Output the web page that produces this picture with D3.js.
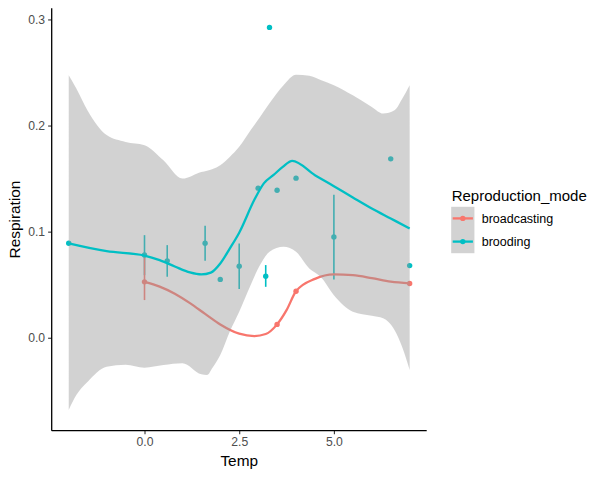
<!DOCTYPE html>
<html>
<head>
<meta charset="utf-8">
<script src="https://cdn.jsdelivr.net/npm/d3@7"></script>
<style>
  body { margin: 0; background: #fff; }
  svg { display: block; font-family: "Liberation Sans", Arial, sans-serif; }
</style>
</head>
<body>
<div id="chart"></div>
<script>
// ----- Data -----
const modes = ["broadcasting", "brooding"];
const modeColors = ["#F8766D", "#00BFC4"];

// observed points (brooding)
const broodTemp = [-2, 0, 0.6, 1.6, 2.0, 2.5, 3.0, 3.2, 3.3, 3.5, 4.0, 5.0, 6.5, 7.0];
const broodResp = [0.089, 0.078, 0.0725, 0.089, 0.055, 0.0675, 0.141, 0.058, 0.2925, 0.139, 0.1504, 0.095, 0.1686, 0.068];
const broodLo   = [null, 0.059, 0.0575, 0.0725, null, 0.046, null, 0.048, null, null, null, 0.055, null, null];
const broodHi   = [null, 0.0967, 0.0873, 0.1055, null, 0.0889, null, 0.0685, null, null, null, 0.1347, null, null];

// observed points (broadcasting)
const castTemp = [0, 3.5, 4.0, 7.0];
const castResp = [0.0527, 0.0126, 0.0438, 0.0512];
const castLo   = [0.0355, null, null, null];
const castHi   = [0.0765, null, null, null];

// smoothed fits
const broodFitTemp = [-2, -1, 0, 0.4, 0.8, 1.2, 1.5, 1.75, 2.0, 2.25, 2.5, 2.9, 3.15, 3.4, 3.65, 3.9, 4.5, 5, 5.5, 6, 6.5, 7];
const broodFit     = [0.089, 0.0816, 0.0775, 0.0732, 0.0672, 0.0616, 0.0597, 0.0614, 0.070, 0.084, 0.099, 0.130, 0.1455, 0.1532, 0.161, 0.1667, 0.1532, 0.1428, 0.1322, 0.1218, 0.1124, 0.103];
const castFitTemp  = [0, 0.4, 0.8, 1.2, 1.6, 2.0, 2.5, 2.9, 3.2, 3.5, 3.75, 4.0, 4.5, 5.0, 5.5, 6.0, 6.5, 7.0];
const castFit      = [0.0527, 0.0482, 0.0415, 0.0326, 0.0225, 0.0125, 0.0038, 0.0016, 0.0035, 0.0126, 0.026, 0.0438, 0.0555, 0.0597, 0.059, 0.0562, 0.0528, 0.0512];

// confidence band (brooding)
const bandTemp  = [-2, -1.8, -1.5, -1, -0.5, 0, 0.5, 1, 1.5, 1.65, 1.8, 2, 2.25, 2.5, 2.8, 3.05, 3.3, 3.67, 4.0, 4.35, 4.65, 5, 5.5, 6, 6.3, 6.6, 6.8, 7];
const bandUpper = [0.2474, 0.235, 0.214, 0.191, 0.1846, 0.1815, 0.1673, 0.150, 0.1563, 0.1575, 0.159, 0.1626, 0.1704, 0.180, 0.1956, 0.208, 0.221, 0.238, 0.2478, 0.247, 0.243, 0.238, 0.2285, 0.2175, 0.2113, 0.2144, 0.225, 0.238];
const bandLower = [-0.068, -0.054, -0.0414, -0.0273, -0.0254, -0.0282, -0.0257, -0.0241, -0.0345, -0.0351, -0.028, -0.0163, 0.0056, 0.0245, 0.0496, 0.0685, 0.081, 0.0857, 0.081, 0.0653, 0.0574, 0.040, 0.0245, 0.0207, 0.0183, 0.0073, -0.0085, -0.0304];

const xTicks = [0, 2.5, 5];
const yTicks = [0, 0.1, 0.2, 0.3];

// ----- Layout -----
const W = 611, H = 477;
const PANEL = { left: 51.7, right: 426.7, top: 8.3, bottom: 430.7 };

const svg = d3.select("#chart").append("svg")
  .attr("width", W).attr("height", H);

// ggplot-style 5% expansion on both axes
const xScale = d3.scaleLinear().domain([-2.45, 7.45]).range([PANEL.left, PANEL.right]);
const yScale = d3.scaleLinear().domain([-0.0876, 0.3105]).range([PANEL.bottom, PANEL.top]);

const zip = (xs, ys) => xs.map((x, i) => ({ x, y: ys[i] }));

const line = d3.line()
  .x(d => xScale(d.x)).y(d => yScale(d.y))
  .curve(d3.curveMonotoneX);

const area = d3.area()
  .x(d => xScale(d.x)).y0(d => yScale(d.lo)).y1(d => yScale(d.hi))
  .curve(d3.curveMonotoneX);

// 1. Error bars (brooding first, broadcasting on top)
function drawBars(xs, lo, hi, color) {
  const rows = xs.map((x, i) => ({ x, lo: lo[i], hi: hi[i] })).filter(d => d.lo != null);
  svg.append("g").selectAll("line").data(rows).enter().append("line")
    .attr("x1", d => xScale(d.x)).attr("x2", d => xScale(d.x))
    .attr("y1", d => yScale(d.lo)).attr("y2", d => yScale(d.hi))
    .attr("stroke", color).attr("stroke-width", 1.6);
}
drawBars(broodTemp, broodLo, broodHi, modeColors[1]);
drawBars(castTemp, castLo, castHi, modeColors[0]);

// 2. Points
function drawPoints(xs, ys, color) {
  svg.append("g").selectAll("circle").data(zip(xs, ys)).enter().append("circle")
    .attr("cx", d => xScale(d.x)).attr("cy", d => yScale(d.y))
    .attr("r", 2.7).attr("fill", color);
}
drawPoints(castTemp, castResp, modeColors[0]);
drawPoints(broodTemp, broodResp, modeColors[1]);

// 3. Broadcasting fit, then the band over it, then brooding fit
svg.append("path")
  .attr("d", line(zip(castFitTemp, castFit)))
  .attr("fill", "none").attr("stroke", modeColors[0]).attr("stroke-width", 2.3);

svg.append("path")
  .attr("d", area(bandTemp.map((x, i) => ({ x, lo: bandLower[i], hi: bandUpper[i] }))))
  .attr("fill", "#999999").attr("fill-opacity", 0.44);

svg.append("path")
  .attr("d", line(zip(broodFitTemp, broodFit)))
  .attr("fill", "none").attr("stroke", modeColors[1]).attr("stroke-width", 2.3);

// 4. Axes (classic theme: black axis lines, no grid)
const xAxis = svg.append("g")
  .attr("transform", `translate(0,${PANEL.bottom})`)
  .call(d3.axisBottom(xScale).tickValues(xTicks).tickFormat(d3.format(".1f")).tickSize(3.6).tickPadding(3));
const yAxis = svg.append("g")
  .attr("transform", `translate(${PANEL.left},0)`)
  .call(d3.axisLeft(yScale).tickValues(yTicks).tickFormat(d3.format(".1f")).tickSize(3.6).tickPadding(3));

[xAxis, yAxis].forEach(ax => {
  ax.select(".domain").remove();
  ax.selectAll(".tick line").attr("stroke", "#333333").attr("stroke-width", 1.1);
  ax.selectAll(".tick text").attr("fill", "#4D4D4D").attr("font-size", 12.2)
    .attr("font-family", "Liberation Sans, Arial, sans-serif");
});

svg.append("line")
  .attr("x1", PANEL.left).attr("x2", PANEL.right)
  .attr("y1", PANEL.bottom).attr("y2", PANEL.bottom)
  .attr("stroke", "#000").attr("stroke-width", 1.3);
svg.append("line")
  .attr("x1", PANEL.left).attr("x2", PANEL.left)
  .attr("y1", PANEL.top).attr("y2", PANEL.bottom)
  .attr("stroke", "#000").attr("stroke-width", 1.3);

// 5. Axis titles
svg.append("text")
  .attr("x", (PANEL.left + PANEL.right) / 2).attr("y", 465.7)
  .attr("text-anchor", "middle").attr("font-size", 15.4).attr("fill", "#000")
  .text("Temp");
svg.append("text")
  .attr("transform", `translate(20,${(PANEL.top + PANEL.bottom) / 2}) rotate(-90)`)
  .attr("text-anchor", "middle").attr("font-size", 15.4).attr("fill", "#000")
  .text("Respiration");

// 6. Legend
const legend = svg.append("g").attr("transform", "translate(451.2,0)");
legend.append("text")
  .attr("x", 0.5).attr("y", 200.5)
  .attr("font-size", 15).attr("fill", "#000")
  .text("Reproduction_mode");

const KEY = 23.2, keyTop = 206.8;
modes.forEach((m, i) => {
  const ky = keyTop + i * KEY;
  legend.append("rect")
    .attr("x", 0).attr("y", ky).attr("width", KEY).attr("height", KEY)
    .attr("fill", "#999999").attr("fill-opacity", 0.44);
  legend.append("line")
    .attr("x1", 1.5).attr("x2", KEY - 1.5)
    .attr("y1", ky + KEY / 2).attr("y2", ky + KEY / 2)
    .attr("stroke", modeColors[i]).attr("stroke-width", 2.3);
  legend.append("circle")
    .attr("cx", KEY / 2).attr("cy", ky + KEY / 2).attr("r", 2.7)
    .attr("fill", modeColors[i]);
  legend.append("text")
    .attr("x", 30.5).attr("y", ky + KEY / 2 + 4.4)
    .attr("font-size", 12.5).attr("fill", "#000")
    .text(m);
});
</script>
</body>
</html>
